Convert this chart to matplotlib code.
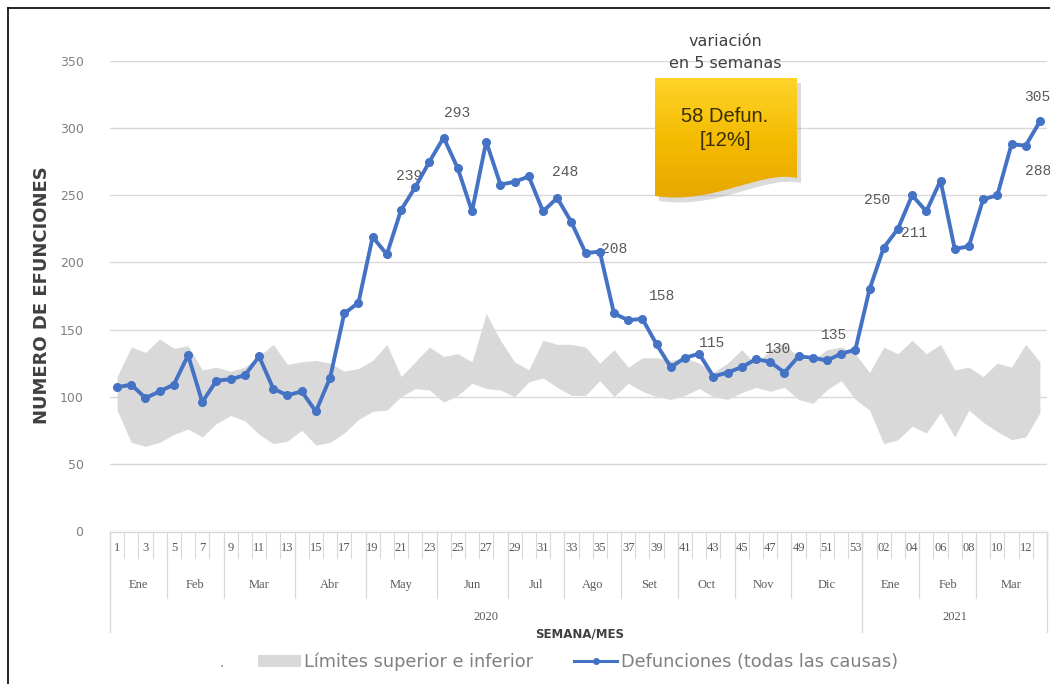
import matplotlib
matplotlib.use('Agg')
import matplotlib.pyplot as plt
import numpy as np
from matplotlib.path import Path
from matplotlib.patches import PathPatch, Patch
from matplotlib.lines import Line2D
from matplotlib.colors import LinearSegmentedColormap
import matplotlib.transforms as mtransforms

# ---------------- data ----------------
deaths = [107, 109, 99, 104, 109, 131, 96, 112, 113, 116,
          130, 106, 101, 104, 89, 114, 162, 170, 219, 206,
          239, 256, 275, 293, 270, 238, 290, 258, 260, 264,
          238, 248, 230, 207, 208, 162, 157, 158, 139, 122,
          129, 132, 115, 118, 122, 128, 126, 118, 130, 129,
          127, 132, 135, 180, 211, 225, 250, 238, 261, 210,
          212, 247, 250, 288, 287, 305]
upper = [115, 137, 133, 143, 136, 138, 120, 122, 119, 122, 130, 139, 124, 126, 127, 125,
         119, 121, 127, 139, 115, 126, 137, 130, 132, 126, 162, 142, 126, 120, 142, 139, 139,
         137, 125, 135, 122, 129, 129, 127, 129, 125, 118, 125, 135, 124, 135, 140, 129,
         127, 135, 137, 132, 118, 137, 132, 142, 132, 139, 120, 122, 115, 125, 122, 139, 126]
lower = [90, 66, 63, 66, 72, 76, 70, 80, 86, 82, 72, 65, 67, 75, 64, 66,
         73, 83, 89, 90, 100, 106, 105, 96, 101, 110, 106, 105, 100, 111, 114, 107, 101,
         101, 112, 100, 110, 104, 100, 98, 101, 106, 100, 98, 103, 107, 104, 107, 98,
         95, 105, 112, 98, 90, 65, 68, 78, 73, 88, 70, 90, 81, 74, 68, 70, 88]
weeks_2020 = [str(w) for w in range(1, 54)]
weeks_2021 = ['%02d' % w for w in range(1, 14)]
week_labels = weeks_2020 + weeks_2021
months = ['Ene', 'Feb', 'Mar', 'Abr', 'May', 'Jun', 'Jul', 'Ago', 'Set', 'Oct', 'Nov', 'Dic',
          'Ene', 'Feb', 'Mar']
month_weeks = [4, 4, 5, 5, 5, 5, 4, 4, 4, 4, 4, 5, 4, 4, 5]
years = ['2020', '2021']
year_weeks = [53, 13]
label_idx = [20, 23, 31, 34, 37, 42, 48, 52, 54, 56, 63, 65]
label_txt = ['239', '293', '248', '208', '158', '115', '130', '135', '211', '250', '288', '305']

# label offsets in pixels (dx, dy with y downward)
label_off = [(8, -34), (13, -25), (8, -26), (14, -3), (20, -23), (-1, -34),
             (-20, -7), (-21, -15), (30, -15), (-35, 5), (27, 27), (-3, -24)]

W, H = 1050, 684
BLUE = '#4472C4'
GRID = '#D9D9D9'
TXT = '#808080'

fig = plt.figure(figsize=(W / 100, H / 100), dpi=100)
fig.patch.set_facecolor('white')

ax = fig.add_axes([110 / W, 1 - 531 / H, (1047 - 110) / W, (531 - 61) / H])
x = np.arange(len(deaths))
ax.fill_between(x, lower, upper, color='#D9D9D9', linewidth=0, zorder=2)
ax.plot(x, deaths, color=BLUE, lw=2.8, marker='o', ms=5.5, zorder=4)
ax.set_xlim(-0.5, len(deaths) - 0.5)
ax.set_ylim(0, 350)
ax.set_yticks(range(0, 351, 50))
ax.yaxis.grid(True, color=GRID, lw=1)
ax.set_axisbelow(True)
ax.set_xticks([])
for s in ax.spines.values():
    s.set_visible(False)
ax.tick_params(axis='y', length=0, pad=19, labelsize=9, labelcolor=TXT)

for i, txt, (dx, dy) in zip(label_idx, label_txt, label_off):
    ax.annotate(txt, (x[i], deaths[i]), xytext=(dx, -dy), textcoords='offset pixels',
                ha='center', va='center', fontsize=10.5, color='#595959',
                family='Liberation Mono', zorder=3)

# overlay in pixel coordinates (y down)
ov = fig.add_axes([0, 0, 1, 1], zorder=5)
ov.set_xlim(0, W)
ov.set_ylim(H, 0)
ov.axis('off')
ov.patch.set_visible(False)

tr = mtransforms.blended_transform_factory(ax.transData, ov.transData)
LC = '#D9D9D9'
# table of categories
ov.plot([-0.5, len(deaths) - 0.5], [532, 532], color=LC, lw=1, transform=tr, clip_on=False)
for k in range(len(deaths) + 1):
    ov.plot([k - 0.5, k - 0.5], [532, 558], color=LC, lw=0.8, transform=tr, clip_on=False)
for i, lab in enumerate(week_labels):
    if i % 2 == 0:
        ov.text(i, 548, lab, transform=tr, ha='center', va='center', fontsize=9,
                family='Liberation Serif', color='#595959')
b = np.concatenate([[0], np.cumsum(month_weeks)])
for k in b:
    ov.plot([k - 0.5, k - 0.5], [532, 598], color=LC, lw=0.9, transform=tr, clip_on=False)
for m, s0, s1 in zip(months, b[:-1], b[1:]):
    ov.text((s0 + s1 - 1) / 2, 585, m, transform=tr, ha='center', va='center', fontsize=9,
            family='Liberation Serif', color='#595959')
yb = np.concatenate([[0], np.cumsum(year_weeks)])
for k in yb:
    ov.plot([k - 0.5, k - 0.5], [532, 632], color=LC, lw=0.9, transform=tr, clip_on=False)
for yl, s0, s1 in zip(years, yb[:-1], yb[1:]):
    ov.text((s0 + s1 - 1) / 2, 617, yl, transform=tr, ha='center', va='center', fontsize=9,
            family='Liberation Serif', color='#595959')

# axis titles
ov.text(42, 295, 'NUMERO DE EFUNCIONES', rotation=90, ha='center', va='center',
        fontsize=13, fontweight='bold', color='#404040')
ov.text(580, 634, 'SEMANA/MES', ha='center', va='center', fontsize=8.5,
        fontweight='bold', color='#404040')

# legend
handles = [Patch(facecolor='#D9D9D9', edgecolor='none'),
           Line2D([], [], color=BLUE, lw=2.2, marker='o', ms=4)]
leg = fig.legend(handles, ['Límites superior e inferior', 'Defunciones (todas las causas)'],
                 loc='center', bbox_to_anchor=(578 / W, 1 - 662 / H), ncol=2, frameon=False,
                 fontsize=12.8, handlelength=2.4, handletextpad=0.2, columnspacing=2.3,
                 labelcolor=TXT)
ov.text(222, 663, '.', ha='center', va='center', fontsize=10, color=TXT)

# callout
ov.text(725, 41, 'variación', ha='center', va='center', fontsize=11.5, color='#404040')
ov.text(725, 63, 'en 5 semanas', ha='center', va='center', fontsize=11.5, color='#404040')
verts = [(655, 78), (797, 78), (797, 178), (760, 170), (715, 205), (655, 196), (655, 78), (655, 78)]
codes = [Path.MOVETO, Path.LINETO, Path.LINETO, Path.CURVE4, Path.CURVE4, Path.CURVE4,
         Path.LINETO, Path.CLOSEPOLY]
shadow_verts = [(vx + 4, vy + 5) for vx, vy in verts]
ov.add_patch(PathPatch(Path(shadow_verts, codes), facecolor='#9a9a9a', edgecolor='none',
                       alpha=0.35, zorder=1))
box = PathPatch(Path(verts, codes), facecolor='none', edgecolor='none', zorder=2)
ov.add_patch(box)
cmap = LinearSegmentedColormap.from_list('gold', ['#FFD42A', '#F4BA00', '#E6A500'])
grad = np.linspace(0, 1, 100).reshape(-1, 1)
im = ov.imshow(grad, extent=[655, 797, 206, 78], origin='upper', cmap=cmap, aspect='auto', zorder=2)
im.set_clip_path(box)
ov.set_xlim(0, W)
ov.set_ylim(H, 0)
ov.text(725, 116, '58 Defun.', ha='center', va='center', fontsize=14.5, color='#3a2e00',
        family='Liberation Sans', zorder=3)
ov.text(725, 141, '[12%]', ha='center', va='center', fontsize=14.5, color='#3a2e00',
        family='Liberation Sans', zorder=3)

# frame lines
ov.plot([8, 8], [8, H], color='black', lw=1.2)
ov.plot([8, W], [8, 8], color='black', lw=1.2)

fig.savefig('out.png', dpi=100)
